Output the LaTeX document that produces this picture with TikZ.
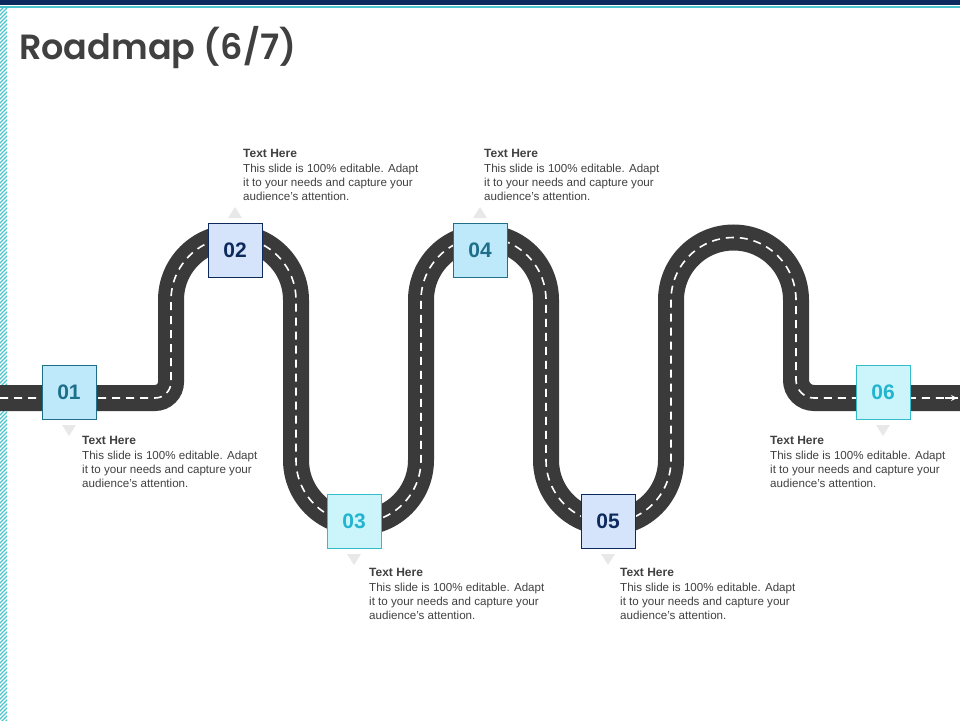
\documentclass[tikz,border=0pt]{standalone}
\usepackage{fontspec}
\setmainfont{Liberation Sans}
\newfontfamily\headfont{Poppins SemiBold}
\usetikzlibrary{positioning}
\definecolor{road}{HTML}{3A3A3A}
\definecolor{navy}{HTML}{0B2A5E}
\definecolor{teal}{HTML}{4BC3CC}
\definecolor{txt}{HTML}{404040}
\definecolor{fillA}{HTML}{BDE9FB}
\definecolor{lineA}{HTML}{1F6F8B}
\definecolor{fillB}{HTML}{D6E4FB}
\definecolor{lineB}{HTML}{0D2A5C}
\definecolor{fillC}{HTML}{CCF5FB}
\definecolor{lineC}{HTML}{33BCCC}
\definecolor{textC}{HTML}{22B5CF}
\tikzset{
  stepA/.style={draw=lineA, fill=fillA, text=lineA},
  stepB/.style={draw=lineB, fill=fillB, text=lineB},
  stepC/.style={draw=lineC, fill=fillC, text=textC},
  numbox/.style={minimum size=54pt, inner sep=0pt, line width=0.8pt,
    font=\fontsize{21}{21}\selectfont\bfseries},
  headline/.style={anchor=north west, inner sep=0pt, text=txt,
    font=\fontsize{12}{13}\selectfont\bfseries},
  bodytext/.style={anchor=north west, inner sep=0pt, text=txt, align=left,
    font=\fontsize{11.6}{14.3}\selectfont},
  pointer/.style={fill=black!9, draw=none}
}
\newcommand{\bodylines}{This slide is 100\% editable. Adapt\\it to your needs and capture your\\audience's attention.}
\begin{document}
\begin{tikzpicture}[x=1pt, y=-1pt]
  \useasboundingbox (0,0) rectangle (960,720);
  % frame
  \fill[navy] (0,0) rectangle (960,4.5);
  \fill[teal] (0,5.5) rectangle (960,7.5);
  \begin{scope}
    \clip (0,8) rectangle (7,720);
    \foreach \k in {0,4,...,728}
      \draw[teal, line width=1.2pt] (-2,\k+9) -- (9,\k-2);
  \end{scope}
  \node[anchor=base west, inner sep=0pt, text=txt,
    font=\headfont\fontsize{35}{35}\selectfont] (title) at (19,59) {Roadmap (6/7)};
  % road
  \def\roadpath{(0,398) -- (155,398) arc[start angle=90, end angle=0, radius=16]
    -- (171,300) arc[start angle=180, end angle=360, radius=62.5]
    -- (296,460) arc[start angle=180, end angle=0, radius=62.5]
    -- (421,300) arc[start angle=180, end angle=360, radius=62.5]
    -- (546,460) arc[start angle=180, end angle=0, radius=62.5]
    -- (671,300) arc[start angle=180, end angle=360, radius=62.5]
    -- (796,380) arc[start angle=180, end angle=90, radius=18]
    -- (960,398)}
  \draw[road, line width=26pt] \roadpath;
  \draw[white, line width=1.6pt, dash pattern=on 8pt off 6pt] \roadpath;
  \draw[white, line width=1.6pt, ->, >=stealth] (945,398) -- (957,398);
  % pointers
  \fill[pointer] (62,425) -- (76,425) -- (69,436) -- cycle;
  \fill[pointer] (228,218) -- (242,218) -- (235,207) -- cycle;
  \fill[pointer] (347,554) -- (361,554) -- (354,565) -- cycle;
  \fill[pointer] (473,218) -- (487,218) -- (480,207) -- cycle;
  \fill[pointer] (601,554) -- (615,554) -- (608,565) -- cycle;
  \fill[pointer] (876,425) -- (890,425) -- (883,436) -- cycle;
  % steps
  \node[numbox, stepA] (s1) at (69,392) {01};
  \node[numbox, stepB] (s2) at (235,250) {02};
  \node[numbox, stepC] (s3) at (354,521) {03};
  \node[numbox, stepA] (s4) at (480,250) {04};
  \node[numbox, stepB] (s5) at (608,521) {05};
  \node[numbox, stepC] (s6) at (883,392) {06};
  % texts
  \foreach \n/\x/\y in {1/82/436, 2/243/149, 3/369/568, 4/484/149, 5/620/568, 6/770/436} {
    \node[headline] (h\n) at (\x,\y) {Text Here};
    \node[bodytext, below=6pt of h\n.south west, anchor=north west] (t\n) {\bodylines};
  }
\end{tikzpicture}
\end{document}
